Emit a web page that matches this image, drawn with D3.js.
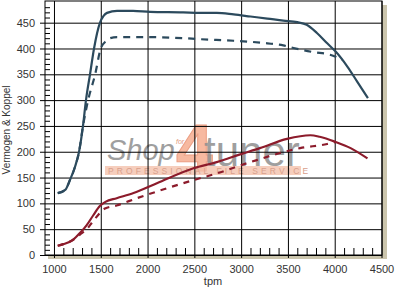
<!DOCTYPE html>
<html>
<head>
<meta charset="utf-8">
<script src="https://cdn.jsdelivr.net/npm/d3@7"></script>
<style>
  body { margin: 0; background: #fff; }
  svg { display: block; font-family: Arial, "Liberation Sans", sans-serif; }
</style>
</head>
<body>
<svg id="vis" width="404" height="297"></svg>
<script>
// torque (Koppel), tuned = solid, stock = dashed
var koppelRpm = [1040, 1120, 1170, 1225, 1268, 1310, 1342, 1385, 1428, 1492, 1530, 1567, 1674, 1845, 2027, 2380, 2560, 2740, 2920, 3100, 3280, 3450, 3600, 3700, 3810, 3920, 4010, 4135, 4240, 4355];
var koppel    = [120, 126, 145, 171, 200, 250, 300, 350, 400, 450, 463, 469, 473, 473, 471, 470, 469, 469, 466, 462, 458, 454, 451, 446, 430, 410, 394, 365, 336, 304];

var koppelStockRpm = [1040, 1120, 1170, 1225, 1268, 1310, 1365, 1440, 1500, 1560, 1600, 1674, 2027, 2380, 2560, 2920, 3100, 3280, 3450, 3560, 3770, 3950, 4080];
var koppelStock    = [120, 126, 145, 171, 200, 250, 300, 350, 400, 415, 420, 422, 422, 420, 418, 415, 413, 410, 406, 401, 393, 388, 378];

// power (Vermogen)
var vermogenRpm = [1040, 1100, 1200, 1280, 1350, 1420, 1490, 1550, 1670, 1850, 2100, 2490, 2740, 2990, 3200, 3490, 3740, 3840, 4010, 4170, 4350];
var vermogen    = [18, 21, 29, 43, 58, 77, 95, 103, 110, 120, 139, 168, 180, 195, 207, 225, 232, 229, 219, 207, 187];

var vermogenStockRpm = [1040, 1100, 1200, 1280, 1350, 1420, 1545, 1670, 1885, 2100, 2490, 2740, 3100, 3630, 3920, 4010];
var vermogenStock    = [18, 21, 29, 40, 50, 66, 90, 96, 110, 123, 145, 158, 180, 207, 215, 219];

var xTicks = [1000, 1500, 2000, 2500, 3000, 3500, 4000, 4500];
var yTicks = [0, 50, 100, 150, 200, 250, 300, 350, 400, 450];

var svg = d3.select('#vis');

var plot = {l: 45, t: 1, r: 382, b: 255};

var x = d3.scaleLinear().domain([904, 4500]).range([plot.l, 381.5]);
var y = d3.scaleLinear().domain([0, 492]).range([plot.b, plot.t]);

// shadow + plot background
svg.append('rect')
    .attr('x', plot.l + 3).attr('y', plot.t + 4)
    .attr('width', plot.r - plot.l + 2).attr('height', plot.b - plot.t)
    .attr('fill', '#cbc5ad');
svg.append('rect')
    .attr('x', plot.l).attr('y', plot.t)
    .attr('width', plot.r - plot.l).attr('height', plot.b - plot.t)
    .attr('fill', '#fff');

// watermark
var wm = svg.append('g').attr('class', 'watermark');
wm.append('text')
    .attr('x', 176).attr('y', 171)
    .attr('font-size', 66).attr('font-weight', 'bold')
    .attr('fill', '#f7b9a0').attr('stroke', '#ec9f84').attr('stroke-width', 1)
    .text('4');
wm.append('rect')
    .attr('x', 105).attr('y', 166).attr('width', 196).attr('height', 9)
    .attr('fill', '#f4c2ad').attr('opacity', 0.8);
wm.append('text')
    .attr('x', 108).attr('y', 174)
    .attr('font-size', 8.5)
    .attr('letter-spacing', 3.1)
    .attr('fill', '#d9a08c')
    .text('PROFESSIONAL FILE SERVICE');
wm.append('text')
    .attr('x', 107).attr('y', 160)
    .attr('font-size', 29).attr('font-style', 'italic')
    .attr('fill', '#8f8f8f').attr('opacity', 0.85)
    .text('Shop');
wm.append('text')
    .attr('x', 176).attr('y', 144)
    .attr('font-size', 7).attr('font-style', 'italic')
    .attr('fill', '#e29a80')
    .text('for');
wm.append('text')
    .attr('x', 204).attr('y', 166)
    .attr('font-size', 42)
    .attr('fill', '#8f8f8f').attr('opacity', 0.85)
    .text('tuner');

// grid via axes
var yAxis = svg.append('g')
    .attr('transform', 'translate(40,0)')
    .call(d3.axisLeft(y).tickValues(yTicks).tickSize(-(plot.r - 40)).tickPadding(5).tickFormat(d3.format('d')));
var xAxis = svg.append('g')
    .attr('transform', 'translate(0,258)')
    .call(d3.axisBottom(x).tickValues(xTicks).tickSize(-(258 - plot.t)).tickPadding(7).tickFormat(d3.format('d')));

[xAxis, yAxis].forEach(function(a){
    a.select('.domain').remove();
    a.selectAll('line').attr('stroke', '#000');
    a.selectAll('text')
        .attr('fill', '#333')
        .style('font-size', '11px')
        .style('font-family', 'Arial, "Liberation Sans", sans-serif');
});

// minor ticks
var xMinor = d3.range(1100, 4500, 100).filter(function(d){ return d % 500 != 0; });
var yMinor = d3.range(10, 490, 10).filter(function(d){ return d % 50 != 0; });

svg.append('g')
    .attr('transform', 'translate(0,' + plot.b + ')')
    .call(d3.axisBottom(x).tickValues(xMinor).tickSize(-7).tickFormat(''))
    .call(function(g){ g.select('.domain').remove(); g.selectAll('line').attr('stroke', '#000'); });

svg.append('g')
    .attr('transform', 'translate(' + plot.l + ',0)')
    .call(d3.axisRight(y).tickValues(yMinor).tickSize(5).tickFormat(''))
    .call(function(g){ g.select('.domain').remove(); g.selectAll('line').attr('stroke', '#000'); });

// frame
svg.append('rect')
    .attr('x', plot.l).attr('y', plot.t)
    .attr('width', plot.r - plot.l).attr('height', plot.b - plot.t)
    .attr('fill', 'none').attr('stroke', '#000').attr('stroke-width', 1);

// axis titles
svg.append('text')
    .attr('x', 213).attr('y', 285)
    .attr('text-anchor', 'middle')
    .attr('font-size', 11).attr('fill', '#333')
    .text('tpm');
svg.append('text')
    .attr('transform', 'translate(9.5,130) rotate(-90)')
    .attr('text-anchor', 'middle')
    .attr('font-size', 10).attr('fill', '#333')
    .text('Vermogen & Koppel');

// curves
var line = d3.line()
    .x(function(d){ return x(d[0]); })
    .y(function(d){ return y(d[1]); })
    .curve(d3.curveMonotoneX);

var series = [
    {rpm: koppelStockRpm, val: koppelStock, color: '#2c4a5d', dash: '7,6'},
    {rpm: vermogenStockRpm, val: vermogenStock, color: '#8c1b2b', dash: '6,6'},
    {rpm: koppelRpm, val: koppel, color: '#2c4a5d', dash: null},
    {rpm: vermogenRpm, val: vermogen, color: '#8c1b2b', dash: null}
];

svg.append('g').selectAll('path')
    .data(series)
    .enter().append('path')
    .attr('d', function(s){ return line(d3.zip(s.rpm, s.val)); })
    .attr('fill', 'none')
    .attr('stroke', function(s){ return s.color; })
    .attr('stroke-width', 2.2)
    .attr('stroke-dasharray', function(s){ return s.dash; });
</script>
</body>
</html>
